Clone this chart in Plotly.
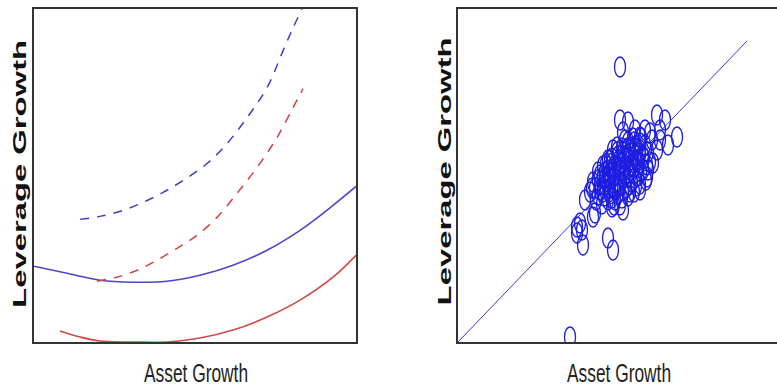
import plotly.graph_objects as go

# ---------------- Left panel: fitted curves (arbitrary units) ----------------
blue_solid_x = [0, 33, 66, 99, 133, 166, 199, 233, 266, 299, 322]
blue_solid_y = [76, 69, 62, 60, 61, 67, 77, 92, 112, 137, 156]

red_solid_x = [26, 46, 66, 99, 133, 166, 199, 233, 266, 299, 322]
red_solid_y = [11, 5, 1, 0, 0, 4, 12, 25, 42, 65, 87]

blue_dash_x = [46, 66, 89, 109, 129, 149, 173, 193, 213, 233, 249, 259, 268]
blue_dash_y = [123, 126, 132, 140, 150, 162, 179, 199, 225, 255, 292, 315, 334]

red_dash_x = [63, 83, 103, 123, 143, 163, 183, 203, 223, 243, 259, 269]
red_dash_y = [61, 65, 72, 82, 94, 107, 125, 149, 175, 205, 235, 254]

# ---------------- Right panel: scatter + 45-degree line ----------------
scatter_x = [
    162, 112,
    162, 170, 165, 199, 207, 202, 219, 210, 192, 182, 159, 152, 147, 135, 132, 127,
    137, 122, 119, 125, 150, 155, 154, 165, 182, 189, 195, 199, 182, 134, 119, 135, 124,
    142, 147, 152, 157, 162, 167, 172, 177, 182, 187,
    140, 145, 150, 156, 161, 166, 172, 178,
    146, 151, 156, 161, 166, 171, 176, 181, 186, 190,
    138, 144, 154, 160, 168, 174, 180, 185, 192,
    148, 154, 159, 164, 170, 175,
    157, 162, 170, 176, 182, 188,
    140, 145, 150, 155, 167,
    162, 167, 172, 157, 154, 170, 174, 178, 160, 152,
    190, 194, 187, 177, 202,
    147, 152, 157, 162, 167, 172, 177, 182,
    142, 149, 155, 161, 167, 173, 179, 185,
    145, 152, 159, 165, 171, 177, 183, 189,
    150, 156, 164, 172, 178,
    154, 160, 165, 170, 176, 183,
    140, 137, 142,
]
scatter_y = [
    275, 5,
    222, 220, 210, 227, 222, 212, 205, 197, 209, 205, 195, 182, 170, 160, 150, 142,
    129, 119, 109, 97, 104, 92, 135, 132, 152, 165, 179, 192, 189, 154, 115, 125, 112,
    152, 157, 162, 167, 172, 177, 182, 187, 192, 197,
    162, 166, 172, 176, 182, 186, 192, 196,
    146, 150, 155, 160, 164, 169, 174, 179, 184, 190,
    142, 138, 144, 148, 154, 160, 166, 172, 180,
    178, 184, 190, 194, 200, 204,
    142, 137, 146, 150, 158, 162,
    170, 176, 182, 192, 202,
    157, 167, 172, 152, 170, 184, 177, 182, 174, 154,
    172, 202, 212, 212, 202,
    164, 169, 174, 179, 184, 189, 194, 199,
    157, 160, 164, 168, 172, 176, 180, 186,
    150, 148, 157, 152, 157, 164, 170, 177,
    142, 137, 144, 150, 156,
    179, 186, 190, 194, 200, 204,
    147, 154, 167,
]

diag_x = [0, 289]
diag_y = [0, 301]

W, H = 777, 386
x1_dom = [34 / W, 356 / W]
x2_dom = [458 / W, 1.0]
y_dom = [(H - 342) / H, (H - 9) / H]

fig = go.Figure()

fig.add_trace(go.Scatter(x=blue_solid_x, y=blue_solid_y, mode="lines", line=dict(color="#4848c8", width=1.6, shape="spline"), xaxis="x", yaxis="y"))
fig.add_trace(go.Scatter(x=red_solid_x, y=red_solid_y, mode="lines", line=dict(color="#d24848", width=1.6, shape="spline"), xaxis="x", yaxis="y"))
fig.add_trace(go.Scatter(x=blue_dash_x, y=blue_dash_y, mode="lines", line=dict(color="#3c3cd2", width=1.5, dash="9px,8px", shape="spline"), xaxis="x", yaxis="y"))
fig.add_trace(go.Scatter(x=red_dash_x, y=red_dash_y, mode="lines", line=dict(color="#d94040", width=1.5, dash="9px,8px", shape="spline"), xaxis="x", yaxis="y"))

fig.add_trace(go.Scatter(x=diag_x, y=diag_y, mode="lines", line=dict(color="#3a3ad0", width=1), xaxis="x2", yaxis="y2"))

shapes = []
for sx, sy in zip(scatter_x, scatter_y):
    shapes.append(dict(type="circle", xref="x2", yref="y2", xsizemode="pixel", ysizemode="pixel",
                       xanchor=sx, yanchor=sy, x0=-5.5, x1=5.5, y0=-10, y1=10,
                       line=dict(color="rgb(30,30,225)", width=1.3), fillcolor="rgba(0,0,0,0)"))

axis_common = dict(showticklabels=False, ticks="", showgrid=False, zeroline=False,
                   showline=True, linecolor="#333333", linewidth=2)

annots = [
    dict(text="Leverage Growth", x=18.5 / W, y=(H - 174) / H, textangle=-90),
    dict(text="Leverage Growth", x=444 / W, y=(H - 172) / H, textangle=-90),
]
annotations = []
for a in annots:
    annotations.append(dict(text=a["text"], x=a["x"], y=a["y"], xref="paper", yref="paper",
                            textangle=a["textangle"], showarrow=False, xanchor="center", yanchor="middle",
                            font=dict(family="Liberation Sans", size=19, color="#111111", weight="bold")))
for xc in [196 / W, 619 / W]:
    annotations.append(dict(text="Asset Growth", x=xc, y=(H - 373) / H, xref="paper", yref="paper",
                            showarrow=False, xanchor="center", yanchor="middle",
                            font=dict(family="Liberation Sans", size=25, color="#222222")))

fig.update_layout(
    width=W, height=H, margin=dict(l=0, r=0, t=0, b=0),
    paper_bgcolor="white", plot_bgcolor="white", showlegend=False,
    xaxis=dict(domain=x1_dom, range=[0, 322], mirror=True, **axis_common),
    yaxis=dict(domain=y_dom, range=[0, 334], mirror=True, **axis_common),
    xaxis2=dict(domain=x2_dom, range=[0, 319], anchor="y2", mirror=True, **axis_common),
    yaxis2=dict(domain=y_dom, range=[0, 333], anchor="x2", mirror=False, **axis_common),
    shapes=shapes,
    annotations=annotations,
)

post = """
var gd = document.getElementById('{plot_id}');
gd.querySelectorAll('text.annotation-text').forEach(function(t){
  var s = t.textContent;
  if (s.indexOf('Leverage') >= 0) { t.setAttribute('textLength', '268'); t.setAttribute('lengthAdjust', 'spacingAndGlyphs'); }
  else if (s.indexOf('Asset') >= 0) { t.setAttribute('textLength', '104'); t.setAttribute('lengthAdjust', 'spacingAndGlyphs'); }
});
"""

fig.write_html("out.html", post_script=post, config={"displayModeBar": False})
